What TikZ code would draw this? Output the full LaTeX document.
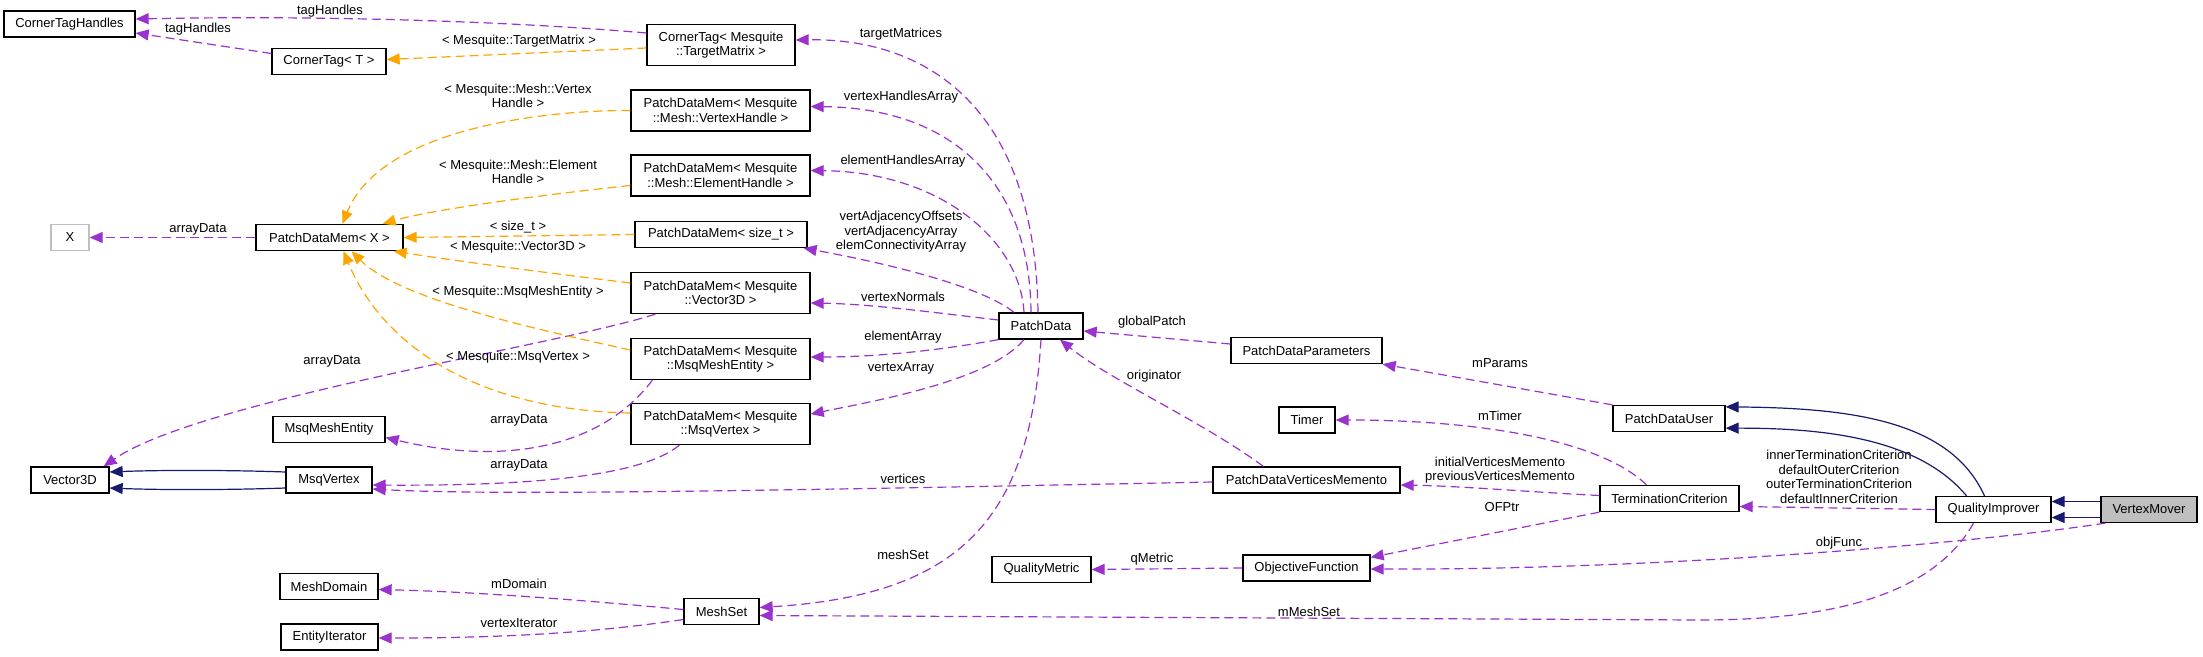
\documentclass[tikz,border=0pt]{standalone}
\usepackage{fontspec}
\setmainfont{Liberation Sans}
\usetikzlibrary{arrows.meta}
\definecolor{usecol}{HTML}{9A32CD}
\definecolor{tplcol}{HTML}{FFA500}
\definecolor{inhcol}{HTML}{191970}
\definecolor{hlcol}{HTML}{BFBFBF}
\tikzset{
  every picture/.style={line width=1.2pt},
  cls/.style={draw,rectangle,line width=1.3pt,fill=white,minimum height=26pt,inner sep=0pt,align=center,font=\fontsize{13}{14.5}\selectfont},
  cls2/.style={cls,minimum height=41pt},
  lbl/.style={inner sep=0pt,align=center,font=\fontsize{13}{14.5}\selectfont},
  member/.style={usecol,dash pattern=on 9pt off 5pt,-{Triangle[length=13pt,width=11pt]}},
  tmpl/.style={tplcol,dash pattern=on 9pt off 5pt,-{Triangle[length=13pt,width=11pt]}},
  inh/.style={inhcol,-{Triangle[length=13pt,width=11pt]}},
}

\begin{document}
\begin{tikzpicture}[x=1pt,y=-1pt]
\useasboundingbox[fill=white] (0,0) rectangle (2203,656);
% left column
\node[cls,minimum width=131pt] (CTH) at (69.5,24) {CornerTagHandles};
\node[cls,minimum width=38pt,draw=hlcol] (X) at (70,237.5) {X};
\node[cls,minimum width=78pt] (V3) at (70,480) {Vector3D};
% second column
\node[cls,minimum width=114pt] (CTT) at (329,61.5) {CornerTag< T >};
\node[cls,minimum width=147pt] (PX) at (329.5,237.5) {PatchDataMem< X >};
\node[cls,minimum width=112pt] (MME) at (329,429.5) {MsqMeshEntity};
\node[cls,minimum width=86pt] (MV) at (329,480) {MsqVertex};
\node[cls,minimum width=98pt] (MD) at (329,586.5) {MeshDomain};
\node[cls,minimum width=97pt] (EI) at (329.5,637) {EntityIterator};
% template instances
\node[cls2,minimum width=148pt] (CTM) at (721,45) {CornerTag< Mesquite\\::TargetMatrix >};
\node[cls2,minimum width=179pt] (PVH) at (720.5,110.5) {PatchDataMem< Mesquite\\::Mesh::VertexHandle >};
\node[cls2,minimum width=179pt] (PEH) at (720.5,175.5) {PatchDataMem< Mesquite\\::Mesh::ElementHandle >};
\node[cls,minimum width=172pt] (PST) at (721,234.5) {PatchDataMem< size\_t >};
\node[cls2,minimum width=179pt] (PV3) at (720.5,293) {PatchDataMem< Mesquite\\::Vector3D >};
\node[cls2,minimum width=179pt] (PME) at (720.5,359) {PatchDataMem< Mesquite\\::MsqMeshEntity >};
\node[cls2,minimum width=179pt] (PMV) at (720.5,424) {PatchDataMem< Mesquite\\::MsqVertex >};
\node[cls,minimum width=75pt] (MS) at (721.5,611.5) {MeshSet};
% middle
\node[cls,minimum width=84pt] (PD) at (1041,326) {PatchData};
\node[cls,minimum width=99pt] (QM) at (1041.5,569.5) {QualityMetric};
\node[cls,minimum width=151pt] (PDP) at (1306.5,350.5) {PatchDataParameters};
\node[cls,minimum width=56pt] (TM) at (1307,420) {Timer};
\node[cls,minimum width=187pt] (PDVM) at (1306.5,480) {PatchDataVerticesMemento};
\node[cls,minimum width=127pt] (OF) at (1306.5,568) {ObjectiveFunction};
% right
\node[cls,minimum width=112pt] (PDU) at (1669,418.5) {PatchDataUser};
\node[cls,minimum width=139pt] (TC) at (1669.5,498.5) {TerminationCriterion};
\node[cls,minimum width=115pt] (QI) at (1993.5,509.5) {QualityImprover};
\node[cls,minimum width=96pt,fill=hlcol] (VM) at (2149,509.5) {VertexMover};

% corner tags
\draw[member] ([yshift=12pt]CTM.west) .. controls (520,22) and (330,15) .. ([yshift=5pt]CTH.east);
\node[lbl] (lTag1) at (330,11) {tagHandles};
\draw[member] ([yshift=8pt]CTT.west) -- ([yshift=-9pt]CTH.east);
\node[lbl] (lTag2) at (198,29) {tagHandles};
\draw[tmpl] ([yshift=-3pt]CTM.west) -- ([yshift=2pt]CTT.east);
\node[lbl] (lTM) at (519,41) {< Mesquite::TargetMatrix >};

% patch data members
\draw[member] ([xshift=-3pt]PD.north) .. controls (1035,100) and (920,38) .. ([yshift=5pt]CTM.east);
\node[lbl] (lTgt) at (901,34) {targetMatrices};
\draw[member] ([xshift=-10pt]PD.north) .. controls (1030,180) and (950,108) .. ([yshift=4pt]PVH.east);
\node[lbl] (lVHA) at (901,97) {vertexHandlesArray};
\draw[member] ([xshift=-17pt]PD.north) .. controls (1020,240) and (940,172) .. ([yshift=5pt]PEH.east);
\node[lbl] (lEHA) at (903,161) {elementHandlesArray};
\draw[member] ([xshift=-27pt]PD.north) .. controls (980,285) and (880,262) .. ([xshift=-4pt]PST.south east);
\node[lbl] (lAdj) at (901,232) {vertAdjacencyOffsets\\vertAdjacencyArray\\elemConnectivityArray};
\draw[member] ([yshift=6pt]PD.west) .. controls (930,312) and (870,304) .. ([yshift=-10pt]PV3.east);
\node[lbl] (lVN) at (903,297) {vertexNormals};
\draw[member] (PD.south west) .. controls (930,352) and (870,357) .. ([yshift=2pt]PME.east);
\node[lbl] (lEA) at (903,337) {elementArray};
\draw[member] ([xshift=-17pt]PD.south) .. controls (990,380) and (880,400) .. ([yshift=10pt]PMV.east);
\node[lbl] (lVA) at (901,368) {vertexArray};
\draw[member] (PD.south) .. controls (1030,520) and (960,595) .. ([yshift=4pt]MS.east);
\node[lbl] (lMS) at (903,555) {meshSet};
\draw[member] ([yshift=6.5pt]PDP.west) -- ([yshift=-5pt]PD.east);
\node[lbl] (lGP) at (1152,322) {globalPatch};
\draw[member] ([xshift=51pt]PDVM.north west) .. controls (1200,420) and (1110,380) .. ([xshift=19pt]PD.south);
\node[lbl] (lOrig) at (1154,376) {originator};
\draw[member] ([yshift=-2pt]PDVM.west) .. controls (800,490) and (500,496) .. ([yshift=-9pt]MV.east);
\node[lbl] (lVert) at (903,479) {vertices};

% array data
\draw[member] (PX.west) -- (X.east);
\node[lbl] (lAD1) at (198,229) {arrayData};
\draw[member] ([xshift=25pt]PV3.south west) .. controls (560,345) and (200,400) .. ([xshift=-6pt]V3.north east);
\node[lbl] (lAD2) at (332,361) {arrayData};
\draw[member] ([xshift=22pt]PME.south west) .. controls (600,450) and (500,465) .. ([yshift=-8pt]MME.east);
\node[lbl] (lAD3) at (519,420) {arrayData};
\draw[member] ([xshift=49pt]PMV.south west) .. controls (640,478) and (520,486) .. ([yshift=-5pt]MV.east);
\node[lbl] (lAD4) at (519,465) {arrayData};
\draw[inh] ([yshift=8pt]MV.west) .. controls (230,470) and (160,470) .. ([yshift=8pt]V3.east);
\draw[inh] ([yshift=-8pt]MV.west) .. controls (230,490) and (160,490) .. ([yshift=-8pt]V3.east);

% template instantiations
\draw[tmpl] (PVH.west) .. controls (540,110) and (380,130) .. ([xshift=13pt]PX.north);
\node[lbl] (lT1) at (518,96) {< Mesquite::Mesh::Vertex\\Handle >};
\draw[tmpl] ([yshift=-10pt]PEH.west) .. controls (540,195) and (430,210) .. ([xshift=-21pt]PX.north east);
\node[lbl] (lT2) at (518,172) {< Mesquite::Mesh::Element\\Handle >};
\draw[tmpl] (PST.west) -- (PX.east);
\node[lbl] (lT3) at (518,227) {< size\_t >};
\draw[tmpl] ([yshift=10pt]PV3.west) .. controls (540,272) and (450,260) .. ([xshift=-10pt]PX.south east);
\node[lbl] (lT4) at (518,247) {< Mesquite::Vector3D >};
\draw[tmpl] ([yshift=9pt]PME.west) .. controls (540,330) and (400,300) .. ([xshift=22pt]PX.south);
\node[lbl] (lT5) at (518,292) {< Mesquite::MsqMeshEntity >};
\draw[tmpl] ([yshift=11pt]PMV.west) .. controls (470,410) and (380,340) .. ([xshift=14pt]PX.south);
\node[lbl] (lT6) at (518,357) {< Mesquite::MsqVertex >};

% mesh set
\draw[member] ([yshift=2pt]MS.west) .. controls (580,600) and (480,592) .. ([yshift=-3pt]MD.east);
\node[lbl] (lMD) at (519,584) {mDomain};
\draw[member] ([yshift=-8pt]MS.west) .. controls (580,635) and (480,638) .. ([yshift=-1pt]EI.east);
\node[lbl] (lVI) at (519,623) {vertexIterator};

% objective function, termination
\draw[member] (OF.west) -- (QM.east);
\node[lbl] (lQM) at (1152,559) {qMetric};
\draw[member] (PDU.north west) -- (PDP.south east);
\node[lbl] (lPar) at (1500,363) {mParams};
\draw[member] ([xshift=-23pt]TC.north) .. controls (1600,440) and (1480,420) .. (TM.east);
\node[lbl] (lTim) at (1500,416) {mTimer};
\draw[member] ([yshift=3pt]TC.west) .. controls (1530,492) and (1460,486) .. ([yshift=-5pt]PDVM.east);
\node[lbl] (lMem) at (1500,470) {initialVerticesMemento\\previousVerticesMemento};
\draw[member] (TC.south west) -- ([yshift=-3pt]OF.north east);
\node[lbl] (lOF) at (1502,507) {OFPtr};
\draw[member] (QI.west) -- ([yshift=-8pt]TC.east);
\node[lbl] (lCrit) at (1839,477) {innerTerminationCriterion\\defaultOuterCriterion\\outerTerminationCriterion\\defaultInnerCriterion};

% quality improver, vertex mover
\draw[inh] ([xshift=-9pt]QI.north) .. controls (1950,420) and (1850,408) .. ([yshift=-2pt]PDU.north east);
\draw[inh] ([xshift=-27pt]QI.north) .. controls (1920,440) and (1830,428) .. ([yshift=4pt]PDU.south east);
\draw[inh] ([yshift=8pt]VM.west) -- ([yshift=8pt]QI.east);
\draw[inh] ([yshift=-8pt]VM.west) -- ([yshift=-8pt]QI.east);
\draw[member] ([xshift=5pt]VM.south west) .. controls (1960,545) and (1650,570) .. ([yshift=-1pt]OF.east);
\node[lbl] (lObj) at (1839,543) {objFunc};
\coordinate (bend) at (1700,620);
\draw[member] ([xshift=-20pt]QI.south) .. controls (1930,600) and (1820,620) .. (bend) -- ([yshift=-4pt]MS.east);
\node[lbl] (lMMS) at (1309,612) {mMeshSet};
\end{tikzpicture}
\end{document}
